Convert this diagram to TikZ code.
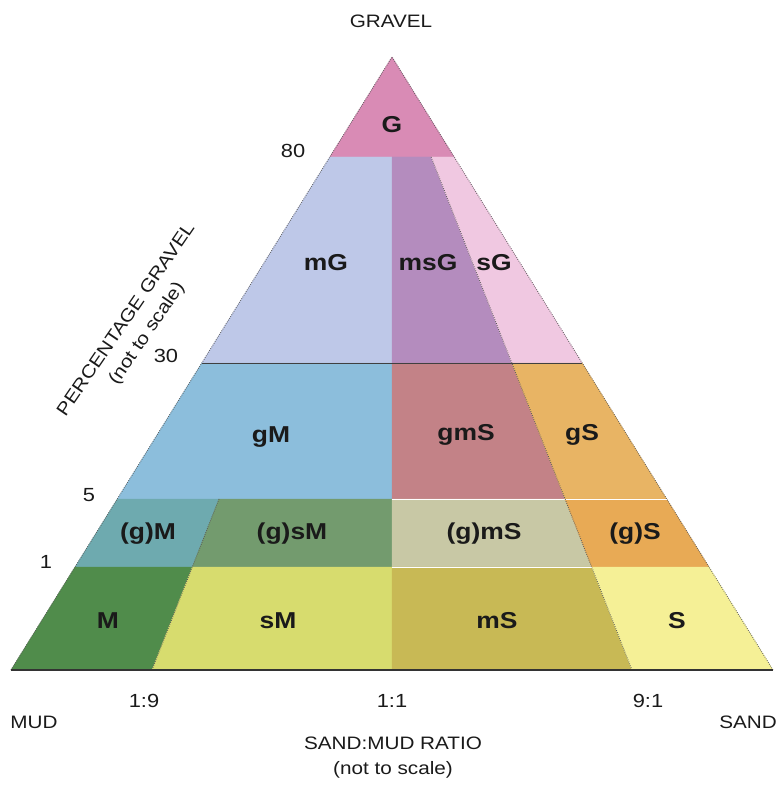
\documentclass[tikz,border=0pt]{standalone}
\usepackage{fontspec}
\setmainfont{Liberation Sans}[FakeStretch=1.15]
\usetikzlibrary{calc}

\definecolor{cG}{HTML}{D98BB5}
\definecolor{cmG}{HTML}{BEC8E8}
\definecolor{cmsG}{HTML}{B48CBE}
\definecolor{csG}{HTML}{F0C8E1}
\definecolor{cgM}{HTML}{8CBEDC}
\definecolor{cgmS}{HTML}{C38287}
\definecolor{cgS}{HTML}{E8B464}
\definecolor{cpgM}{HTML}{6EAAAF}
\definecolor{cpgsM}{HTML}{739B6E}
\definecolor{cpgmS}{HTML}{C8C8A5}
\definecolor{cpgS}{HTML}{E8AA55}
\definecolor{cM}{HTML}{508C4B}
\definecolor{csM}{HTML}{D7DC6E}
\definecolor{cmS}{HTML}{C8B955}
\definecolor{cS}{HTML}{F5F096}
\definecolor{ink}{HTML}{1A1A1A}

\tikzset{
  region/.style={fill=#1, draw=#1, line width=0.4pt},
  field/.style={font=\fontsize{23}{23}\selectfont\bfseries, text=ink},
  axislabel/.style={font=\fontsize{18}{25}\selectfont, text=ink},
  ticklabel/.style={font=\fontsize{19}{19}\selectfont, text=ink},
  dotedge/.style={draw=black!65, line width=0.9pt, dash pattern=on 0.7pt off 1.4pt},
}

\begin{document}
\begin{tikzpicture}[x=1pt, y=-1pt]
\useasboundingbox (0,0) rectangle (781,786);

% corners of the triangle and base points of the ratio lines
\coordinate (A)  at (392,57);
\coordinate (L)  at (11,670);
\coordinate (T0) at (152,670);
\coordinate (C0) at (392,670);
\coordinate (S0) at (632,670);
\coordinate (R)  at (773,670);
% 80 % gravel
\coordinate (L80) at (329.8,157);
\coordinate (C80) at (392,157);
\coordinate (S80) at (431.2,157);
\coordinate (R80) at (454.2,157);
% 30 % gravel
\coordinate (L30) at (201.8,363);
\coordinate (C30) at (392,363);
\coordinate (S30) at (511.8,363);
\coordinate (R30) at (582.2,363);
% 5 % gravel
\coordinate (L5) at (117.3,499);
\coordinate (T5) at (219,499);
\coordinate (C5) at (392,499);
\coordinate (S5) at (565,499);
\coordinate (R5) at (666.7,499);
% 1 % gravel
\coordinate (L1) at (75,567);
\coordinate (T1) at (192.3,567);
\coordinate (C1) at (392,567);
\coordinate (S1) at (591.7,567);
\coordinate (R1) at (709,567);

% textural fields
\fill[region=cG]    (A) -- (R80) -- (L80) -- cycle;
\fill[region=cmG]   (L80) -- (C80) -- (C30) -- (L30) -- cycle;
\fill[region=cmsG]  (C80) -- (S80) -- (S30) -- (C30) -- cycle;
\fill[region=csG]   (S80) -- (R80) -- (R30) -- (S30) -- cycle;
\fill[region=cgM]   (L30) -- (C30) -- (C5) -- (L5) -- cycle;
\fill[region=cgmS]  (C30) -- (S30) -- (S5) -- (C5) -- cycle;
\fill[region=cgS]   (S30) -- (R30) -- (R5) -- (S5) -- cycle;
\fill[region=cpgM]  (L5) -- (T5) -- (T1) -- (L1) -- cycle;
\fill[region=cpgsM] (T5) -- (C5) -- (C1) -- (T1) -- cycle;
\fill[region=cpgmS] (C5) -- (S5) -- (S1) -- (C1) -- cycle;
\fill[region=cpgS]  (S5) -- (R5) -- (R1) -- (S1) -- cycle;
\fill[region=cM]    (L1) -- (T1) -- (T0) -- (L) -- cycle;
\fill[region=csM]   (T1) -- (C1) -- (C0) -- (T0) -- cycle;
\fill[region=cmS]   (C1) -- (S1) -- (S0) -- (C0) -- cycle;
\fill[region=cS]    (S1) -- (R1) -- (R) -- (S0) -- cycle;

% boundaries
\draw[white, line width=0.8pt] (C5) -- (R5);
\draw[white, line width=0.8pt] (C1) -- (S1);
\draw[black!75, line width=0.8pt] (L30) -- (R30);
\draw[dotedge] (S80) -- (S0);
\draw[dotedge] (T5) -- (T0);
\draw[dotedge] (L) -- (A) -- (R);
\draw[black!80, line width=1.2pt] (L) -- (R);

% field names
\node[field] (nG)    at (392,125) {G};
\node[field] (nmG)   at (326,263) {mG};
\node[field] (nmsG)  at (428,263) {msG};
\node[field] (nsG)   at (494,263) {sG};
\node[field] (ngM)   at (271,437) {gM};
\node[field] (ngmS)  at (466,435) {gmS};
\node[field] (ngS)   at (582,435) {gS};
\node[field] (npgM)  at (148,534) {(g)M};
\node[field] (npgsM) at (292,534) {(g)sM};
\node[field] (npgmS) at (484,534) {(g)mS};
\node[field] (npgS)  at (635,534) {(g)S};
\node[field] (nM)    at (108,621) {M};
\node[field] (nsM)   at (278,621) {sM};
\node[field] (nmS)   at (497,621) {mS};
\node[field] (nS)    at (677,621) {S};

% gravel percentages
\node[ticklabel] (g80) at (293,151) {80};
\node[ticklabel] (g30) at (166,356) {30};
\node[ticklabel] (g5)  at (89,495)  {5};
\node[ticklabel] (g1)  at (46,562)  {1};

% sand:mud ratios
\node[ticklabel] (r19) at (144,701) {1:9};
\node[ticklabel] (r11) at (392,701) {1:1};
\node[ticklabel] (r91) at (648,701) {9:1};

% end members and axis titles
\node[axislabel] (gravel) at (391,21)  {GRAVEL};
\node[axislabel] (mud)    at (34,722)  {MUD};
\node[axislabel] (sand)   at (748,722) {SAND};
\node[axislabel, align=center] (ratio) at (393,758)
  {SAND:MUD RATIO\\(not to scale)};
\node[axislabel, align=center, rotate=55.6] (pct) at (137,327)
  {PERCENTAGE GRAVEL\\(not to scale)};
\end{tikzpicture}
\end{document}
